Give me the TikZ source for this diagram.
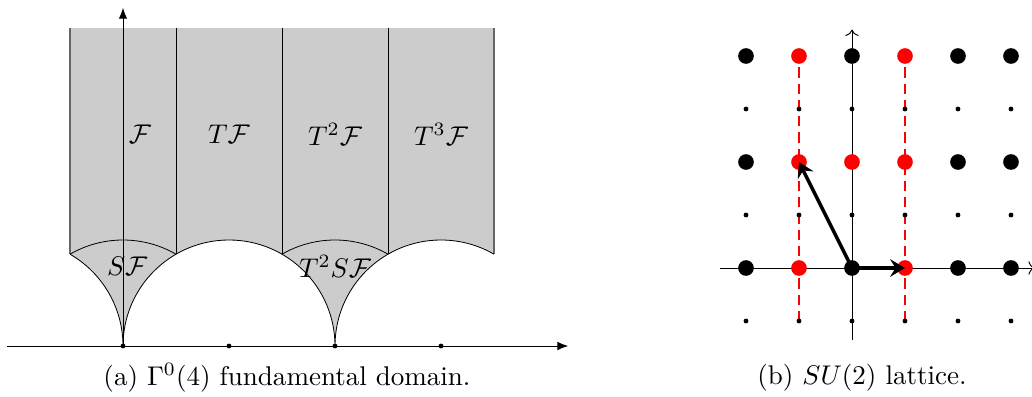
\documentclass[tikz,border=0pt]{standalone}
\usepackage{amsmath,amssymb}
\usetikzlibrary{arrows.meta,positioning,calc,backgrounds}

\begin{document}
\begin{tikzpicture}[
    line width=0.3pt,
    dom/.style={fill=gray!40,draw=none},
    rim/.style={draw=black!60,line width=0.5pt},
    axis/.style={-{Latex[length=1.4mm,width=1.1mm]},line width=0.35pt},
    axisb/.style={->,line width=0.35pt},
    tickdot/.style={circle,fill=black,inner sep=0pt,minimum size=1.8pt},
    lbl/.style={inner sep=1pt},
    bdot/.style={circle,fill=black,inner sep=0pt,minimum size=5.8pt},
    rdot/.style={circle,fill=red,inner sep=0pt,minimum size=5.8pt},
    sdot/.style={circle,fill=black,inner sep=0pt,minimum size=1.8pt},
    cut/.style={draw=red,line width=0.4pt,dash pattern=on 3.8pt off 2.2pt},
    vec/.style={-{Stealth[length=5.5pt,width=6.5pt,inset=2pt]},line width=1.3pt},
]
\useasboundingbox (0,0) rectangle (13.416,5.148);

% (a) Gamma^0(4) domain
\begin{scope}[shift={(1.599,0.65)},scale=1.378]
\fill[dom] (-0.5,3) -- (-0.5,0.866) arc[start angle=60,end angle=0,radius=1]
    arc[start angle=180,end angle=0,radius=1]
    arc[start angle=180,end angle=60,radius=1] -- (3.5,3) -- cycle;
\draw[rim] (-0.5,3) -- (-0.5,0.866);
\draw[rim] (3.5,3) -- (3.5,0.866);
\foreach \x in {0.5,1.5,2.5}
    \draw (\x,3) -- (\x,0.866);
% arcs
\draw (-0.5,0.866) arc[start angle=60,end angle=0,radius=1]
    arc[start angle=180,end angle=0,radius=1]
    arc[start angle=180,end angle=60,radius=1];
\draw (-0.5,0.866) arc[start angle=120,end angle=60,radius=1];
\draw (1.5,0.866) arc[start angle=120,end angle=60,radius=1];

% Axes
\coordinate (xl) at (-1.094,0);
\coordinate (xr) at (4.2,0);
\coordinate (yb) at (0,0);
\coordinate (yt) at (0,3.19);
\draw[axis] (xl) -- (xr);
\draw[axis] (yb) -- (yt);
\foreach \k in {0,...,3}
    \node[tickdot] (t\k) at (\k,0) {};

% Labels
\node[lbl] (f) at (0.16,2) {$\mathcal{F}$};
\node[lbl] (tf) at (1,2) {$T\mathcal{F}$};
\node[lbl] (t2f) at (2,2) {$T^2\mathcal{F}$};
\node[lbl] (t3f) at (3,2) {$T^3\mathcal{F}$};
\node[lbl] (sf) at (0.04,0.75) {$S\mathcal{F}$};
\node[lbl] (t2sf) at (2,0.75) {$T^2S\mathcal{F}$};
\end{scope}
\node (capa) at (3.731,0.234) {(a) $\Gamma^0(4)$ fundamental domain.};

% (b) SU(2) lattice
\begin{scope}[shift={(11.076,1.664)},scale=0.689]
% small dots
\foreach \i in {0,...,5}
    \foreach \j in {0,2,4}
        \node[sdot] (p\i\j) at (\i-2,\j-1) {};
% big dots
\foreach \i/\j in {0/1,2/1,4/1,5/1,0/3,4/3,5/3,0/5,2/5,4/5,5/5}
    \node[bdot] (p\i\j) at (\i-2,\j-1) {};
\foreach \i/\j in {1/1,3/1,1/3,2/3,3/3,1/5,3/5}
    \node[rdot] (p\i\j) at (\i-2,\j-1) {};

\begin{pgfonlayer}{background}
\coordinate (bl) at (-2.5,0);
\coordinate (br) at (3.45,0);
\coordinate (bb) at (0,-1.36);
\coordinate (bt) at (0,4.5);
\draw[axisb] (bl) -- (br);
\draw[axisb] (bb) -- (bt);
\draw[cut] (p10.center) -- (p15.center);
\draw[cut] (p30.center) -- (p35.center);
\end{pgfonlayer}

% Arrows
\draw[vec] (p21.center) -- (p31.center);
\draw[vec] (p21.center) -- (p13.center);
\end{scope}
\node (capb) at (11.206,0.234) {(b) $SU(2)$ lattice.};
\end{tikzpicture}
\end{document}
